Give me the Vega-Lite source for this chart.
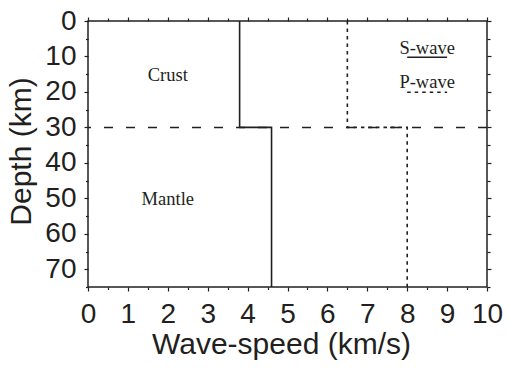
{
  "$schema": "https://vega.github.io/schema/vega-lite/v6.json",
  "autosize": {"type": "none"},
  "padding": {"left": 88, "top": 21, "right": 22, "bottom": 82},
  "width": 399,
  "height": 266,
  "background": "white",
  "config": {
    "view": {"stroke": "#231f20", "strokeWidth": 1.5},
    "axis": {
      "domain": false,
      "grid": false,
      "tickColor": "#231f20",
      "tickWidth": 1.2,
      "labelFont": "Liberation Sans",
      "labelFontSize": 28,
      "labelColor": "#231f20",
      "titleFont": "Liberation Sans",
      "titleFontSize": 30,
      "titleFontWeight": "normal",
      "titleColor": "#231f20",
      "labelOverlap": false,
      "labelFlush": false,
      "labelBound": false
    }
  },
  "datasets": {
    "profiles": [
      {"id": "S", "style": "solid", "i": 0, "v": 3.8, "depth": 0},
      {"id": "S", "style": "solid", "i": 1, "v": 3.8, "depth": 30},
      {"id": "S", "style": "solid", "i": 2, "v": 4.6, "depth": 30},
      {"id": "S", "style": "solid", "i": 3, "v": 4.6, "depth": 75},
      {"id": "Sleg", "style": "solid", "i": 0, "v": 8, "depth": 10.2},
      {"id": "Sleg", "style": "solid", "i": 1, "v": 9, "depth": 10.2},
      {"id": "P", "style": "dotted", "i": 0, "v": 6.5, "depth": 0},
      {"id": "P", "style": "dotted", "i": 1, "v": 6.5, "depth": 30},
      {"id": "P", "style": "dotted", "i": 2, "v": 8, "depth": 30},
      {"id": "P", "style": "dotted", "i": 3, "v": 8, "depth": 75},
      {"id": "Pleg", "style": "dotted", "i": 0, "v": 8, "depth": 20.1},
      {"id": "Pleg", "style": "dotted", "i": 1, "v": 9, "depth": 20.1}
    ],
    "boundary": [{"depth": 30}],
    "labels": [
      {"text": "Crust", "v": 2, "depth": 17},
      {"text": "Mantle", "v": 2, "depth": 52},
      {"text": "S-wave", "v": 8.5, "depth": 9.2},
      {"text": "P-wave", "v": 8.5, "depth": 18.9}
    ]
  },
  "resolve": {"axis": {"x": "independent", "y": "independent"}},
  "layer": [
    {
      "data": {"name": "boundary"},
      "mark": {"type": "rule", "color": "#231f20", "strokeWidth": 1.5, "strokeDash": [9, 13]},
      "encoding": {
        "y": {"field": "depth", "type": "quantitative", "axis": null,
              "scale": {"domain": [0, 75], "reverse": true, "nice": false, "zero": false}}
      }
    },
    {
      "data": {"name": "profiles"},
      "transform": [{"filter": "datum.style === 'dotted'"}],
      "mark": {"type": "line", "color": "#231f20", "strokeWidth": 1.6, "strokeDash": [3.5, 4]},
      "encoding": {
        "x": {"field": "v", "type": "quantitative",
              "scale": {"domain": [0, 10], "nice": false, "zero": false},
              "axis": {"orient": "top", "labels": false, "title": null,
                       "values": [0,0.5,1,1.5,2,2.5,3,3.5,4,4.5,5,5.5,6,6.5,7,7.5,8,8.5,9,9.5,10],
                       "tickSize": {"condition": {"test": "datum.value % 1 === 0", "value": 4}, "value": 3}}},
        "y": {"field": "depth", "type": "quantitative",
              "scale": {"domain": [0, 75], "reverse": true, "nice": false, "zero": false},
              "axis": {"orient": "right", "labels": false, "title": null,
                       "values": [0,5,10,15,20,25,30,35,40,45,50,55,60,65,70,75],
                       "tickSize": {"condition": {"test": "datum.value % 10 === 0", "value": 4}, "value": 3}}},
        "detail": {"field": "id"},
        "order": {"field": "i", "type": "quantitative"}
      }
    },
    {
      "data": {"name": "profiles"},
      "transform": [{"filter": "datum.style === 'solid'"}],
      "mark": {"type": "line", "color": "#231f20", "strokeWidth": 1.6},
      "encoding": {
        "x": {"field": "v", "type": "quantitative",
              "scale": {"domain": [0, 10], "nice": false, "zero": false},
              "axis": {"orient": "bottom", "title": "Wave-speed (km/s)",
                       "values": [0,0.5,1,1.5,2,2.5,3,3.5,4,4.5,5,5.5,6,6.5,7,7.5,8,8.5,9,9.5,10],
                       "labelExpr": "datum.value % 1 === 0 ? format(datum.value, 'd') : ''",
                       "tickSize": {"condition": {"test": "datum.value % 1 === 0", "value": 4}, "value": 2.5},
                       "labelBaseline": "alphabetic",
                       "labelPadding": 31,
                       "titleX": 193, "titleY": 66, "titleBaseline": "alphabetic", "titleAnchor": "middle"}},
        "y": {"field": "depth", "type": "quantitative",
              "scale": {"domain": [0, 75], "reverse": true, "nice": false, "zero": false},
              "axis": {"orient": "left", "title": "Depth (km)",
                       "values": [0,5,10,15,20,25,30,35,40,45,50,55,60,65,70,75],
                       "labelExpr": "datum.value % 10 === 0 ? format(datum.value, 'd') : ''",
                       "tickSize": {"condition": {"test": "datum.value % 10 === 0", "value": 4}, "value": 2.5},
                       "labelPadding": 8,
                       "titleX": -67, "titleY": 130, "titleAngle": -90, "titleBaseline": "middle", "titleAlign": "center"}},
        "detail": {"field": "id"},
        "order": {"field": "i", "type": "quantitative"}
      }
    },
    {
      "data": {"name": "labels"},
      "mark": {"type": "text", "font": "Liberation Serif", "fontSize": 18.5, "color": "#231f20", "baseline": "alphabetic", "align": "center"},
      "encoding": {
        "x": {"field": "v", "type": "quantitative", "axis": null},
        "y": {"field": "depth", "type": "quantitative", "axis": null},
        "text": {"field": "text"}
      }
    }
  ]
}
